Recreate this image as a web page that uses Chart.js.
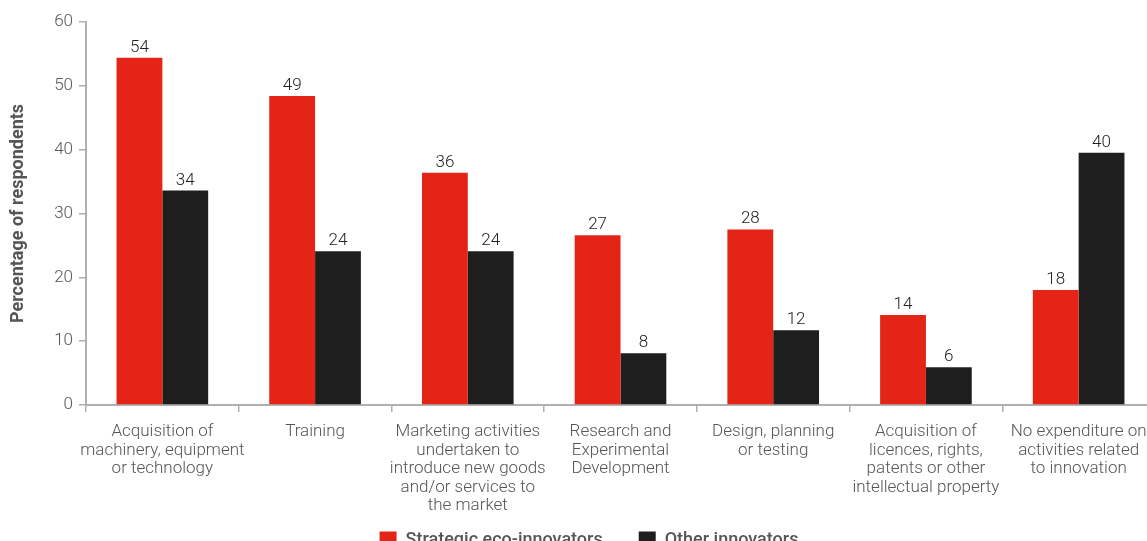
<!DOCTYPE html>
<html>
<head>
<meta charset="utf-8">
<script src="https://cdn.jsdelivr.net/npm/chart.js@4.4.1/dist/chart.umd.min.js"></script>
<style>
  html, body { margin: 0; padding: 0; background: #fff; overflow: hidden; }
  #wrap { width: 1178px; height: 559px; position: relative; }
</style>
</head>
<body>
<div id="wrap"><canvas id="c"></canvas></div>
<script>
const categories = [
  ["Acquisition of", "machinery, equipment", "or technology"],
  ["Training"],
  ["Marketing activities", "undertaken to", "introduce new goods", "and/or services to", "the market"],
  ["Research and", "Experimental", "Development"],
  ["Design, planning", "or testing"],
  ["Acquisition of", "licences, rights,", "patents or other", "intellectual property"],
  ["No expenditure on", "activities related", "to innovation"]
];
const seriesNames = ["Strategic eco-innovators", "Other innovators"];
const strategicValues = [54.4, 48.4, 36.4, 26.6, 27.5, 14.1, 18.0];
const otherValues = [33.6, 24.1, 24.1, 8.1, 11.7, 5.9, 39.5];
const strategicLabels = ["54", "49", "36", "27", "28", "14", "18"];
const otherLabels = ["34", "24", "24", "8", "12", "6", "40"];
const yMin = 0, yMax = 60, yStep = 10;
const yTitle = "Percentage of respondents";

const FONT = "Roboto, 'DejaVu Sans', sans-serif";
const TXT = "#555555";
const AXIS = "#b0b0b0";

const valueLabelPlugin = {
  id: "valueLabels",
  afterDatasetsDraw(chart) {
    const ctx = chart.ctx;
    const texts = [strategicLabels, otherLabels];
    ctx.save();
    ctx.font = "300 17px " + FONT;
    ctx.fillStyle = "#222222";
    ctx.textAlign = "center";
    ctx.textBaseline = "alphabetic";
    chart.data.datasets.forEach((ds, di) => {
      const meta = chart.getDatasetMeta(di);
      meta.data.forEach((bar, i) => {
        ctx.fillText(texts[di][i], bar.x, bar.y - 6);
      });
    });
    ctx.restore();
  }
};

new Chart(document.getElementById("c"), {
  type: "bar",
  data: {
    labels: categories,
    datasets: [
      { label: seriesNames[0], data: strategicValues, backgroundColor: "#e32417", borderWidth: 0 },
      { label: seriesNames[1], data: otherValues, backgroundColor: "#1e1e1e", borderWidth: 0 }
    ]
  },
  options: {
    responsive: true,
    maintainAspectRatio: false,
    animation: false,
    layout: { padding: { top: 22, left: 0, right: 0, bottom: 0 } },
    datasets: { bar: { categoryPercentage: 0.6, barPercentage: 1.0 } },
    plugins: {
      tooltip: { enabled: false },
      legend: {
        position: "bottom",
        align: "center",
        labels: {
          boxWidth: 17,
          boxHeight: 17,
          padding: 36,
          color: TXT,
          font: { family: FONT, size: 18, weight: "500" }
        }
      }
    },
    scales: {
      x: {
        grid: { display: true, drawOnChartArea: false, drawTicks: true, tickLength: 7, color: AXIS, lineWidth: 1.5, offset: true },
        border: { display: true, color: AXIS, width: 2 },
        ticks: { color: TXT, padding: 11, maxRotation: 0, autoSkip: false, font: { family: FONT, size: 17, weight: "300", lineHeight: 1.08 } },
        afterFit(scale) {
          scale.height = 90;
          scale._computeLabelArea = function () { return undefined; };
        }
      },
      y: {
        min: yMin, max: yMax,
        grid: { display: true, drawOnChartArea: false, drawTicks: true, tickLength: 7, color: AXIS, lineWidth: 1.5 },
        border: { display: true, color: AXIS, width: 2 },
        ticks: { stepSize: yStep, color: TXT, padding: 6, font: { family: FONT, size: 17, weight: "300" } },
        title: { display: true, text: yTitle, color: TXT, padding: { top: 8, bottom: 0 }, font: { family: FONT, size: 18, weight: "bold" } },
        afterFit(scale) { scale.width = 86; }
      },
      yR: {
        position: "right",
        display: true,
        grid: { display: false },
        border: { display: false },
        ticks: { display: false },
        afterFit(scale) { scale.width = 23; }
      }
    }
  },
  plugins: [valueLabelPlugin]
});
</script>
</body>
</html>
